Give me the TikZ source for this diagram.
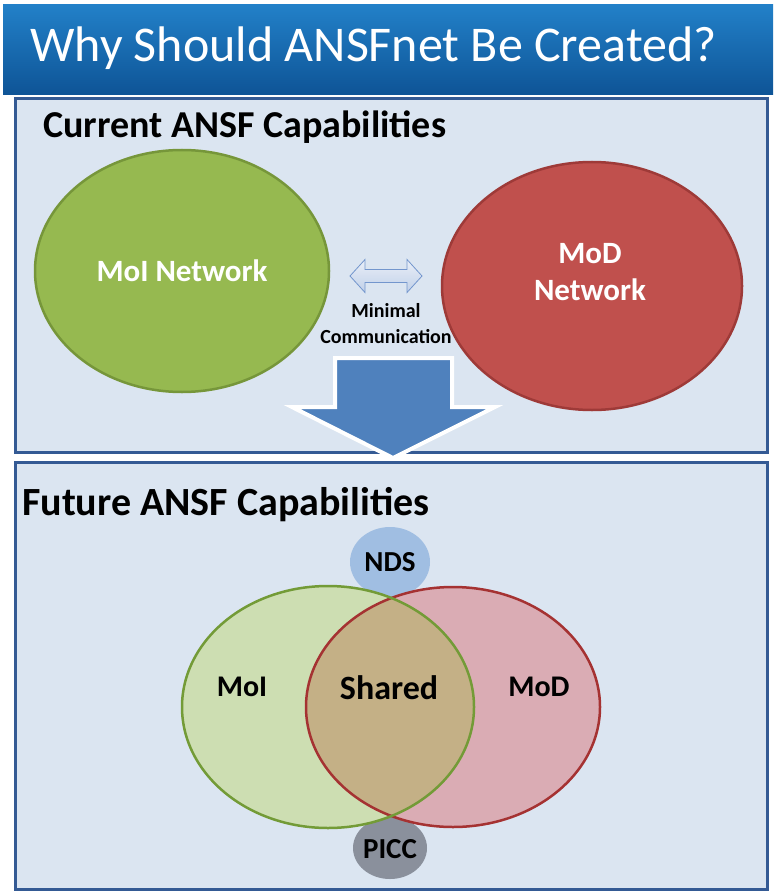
\documentclass[tikz,border=0pt]{standalone}
\usepackage{fontspec}
\setmainfont{Carlito}
\usetikzlibrary{shapes.geometric}
\definecolor{panelfill}{RGB}{219,229,241}
\definecolor{panelline}{RGB}{52,90,148}
\definecolor{bartop}{RGB}{34,128,200}
\definecolor{barbot}{RGB}{14,84,150}
\definecolor{moigreen}{RGB}{150,185,80}
\definecolor{moigreenline}{RGB}{118,150,58}
\definecolor{modred}{RGB}{192,80,77}
\definecolor{modredline}{RGB}{158,58,56}
\definecolor{vgreen}{RGB}{205,222,178}
\definecolor{vred}{RGB}{218,172,180}
\definecolor{vshared}{RGB}{196,176,134}
\definecolor{vgreenline}{RGB}{115,155,55}
\definecolor{vredline}{RGB}{165,50,50}
\definecolor{ndsblue}{RGB}{160,190,226}
\definecolor{piccgray}{RGB}{138,144,156}
\definecolor{bigarrow}{RGB}{79,129,189}
\definecolor{dblline}{RGB}{115,150,205}
\tikzset{
  panel/.style={draw=panelline, line width=3pt, fill=panelfill},
  heading/.style={font=\bfseries\fontsize{38}{44}\selectfont, anchor=base west, inner sep=0},
  bigell/.style={ellipse, line width=2.5pt, inner sep=0},
  whitelbl/.style={text=white, font=\bfseries\fontsize{31}{37}\selectfont, align=center},
  venntxt/.style={font=\bfseries\fontsize{30}{34}\selectfont},
  smalltxt/.style={font=\bfseries\fontsize{20}{24}\selectfont, inner sep=0},
}
\begin{document}
\begin{tikzpicture}[x=1pt,y=-1pt]
\useasboundingbox (0,0) rectangle (773,893);
\fill[white] (0,0) rectangle (773,893);
% title bar
\shade[top color=bartop, bottom color=barbot] (3,5) rectangle (773,95);
\node[text=white, anchor=base west, inner sep=0, font=\fontsize{50}{56}\selectfont] (title) at (30,62) {Why Should ANSFnet Be Created?};
% panels
\draw[panel] (15,99) rectangle (767,452);
\draw[panel] (15,462) rectangle (767,889);
\node[heading] (cur) at (43,138) {Current ANSF Capabilities};
\node[heading, font=\bfseries\fontsize{40}{46}\selectfont] (fut) at (22,515) {Future ANSF Capabilities};
% current networks
\node[bigell, fill=moigreen, draw=moigreenline, minimum width=294pt, minimum height=242pt] (moi) at (182,271) {};
\node[whitelbl] (moil) at (182,271) {MoI Network};
\node[bigell, fill=modred, draw=modredline, minimum width=300pt, minimum height=248pt] (mod) at (592,286) {};
\node[whitelbl] (modl) at (590,272) {MoD\\Network};
% double arrow
\shade[top color=white!85!dblline, bottom color=white!55!dblline, draw=dblline, line width=0.8pt]
  (350,276) -- (365,259.5) -- (365,269.5) -- (407,269.5) -- (407,259.5) -- (422,276)
  -- (407,292.5) -- (407,282.5) -- (365,282.5) -- (365,292.5) -- cycle;
\node[smalltxt] (mc1) at (386,311) {Minimal};
\node[smalltxt] (mc2) at (386,337) {Communication};
% future venn
\node[ellipse, fill=ndsblue, minimum width=80pt, minimum height=70pt, inner sep=0] (nds) at (390,562) {};
\node[ellipse, fill=piccgray, minimum width=74pt, minimum height=62pt, inner sep=0] (picc) at (390,848) {};
\fill[vgreen] (328,707) ellipse [x radius=146, y radius=121];
\fill[vred] (453,707) ellipse [x radius=147, y radius=120];
\begin{scope}
  \clip (328,707) ellipse [x radius=146, y radius=121];
  \fill[vshared] (453,707) ellipse [x radius=147, y radius=120];
\end{scope}
\draw[vredline, line width=2.5pt] (453,707) ellipse [x radius=147, y radius=120];
\draw[vgreenline, line width=2.5pt] (328,707) ellipse [x radius=146, y radius=121];
\node[venntxt, font=\bfseries\fontsize{29}{33}\selectfont] (ndsl) at (390,562) {NDS};
\node[venntxt, font=\bfseries\fontsize{29}{33}\selectfont] (piccl) at (390,849) {PICC};
\node[venntxt] (moiv) at (242,687) {MoI};
\node[venntxt] (modv) at (539,687) {MoD};
\node[venntxt, font=\bfseries\fontsize{34}{38}\selectfont] (shared) at (389,688) {Shared};
% big down arrow
\fill[bigarrow, draw=white, line width=4pt, line join=miter]
  (335,358) -- (452,358) -- (452,407) -- (495,407) -- (393,458) -- (292,407) -- (335,407) -- cycle;
\end{tikzpicture}
\end{document}
